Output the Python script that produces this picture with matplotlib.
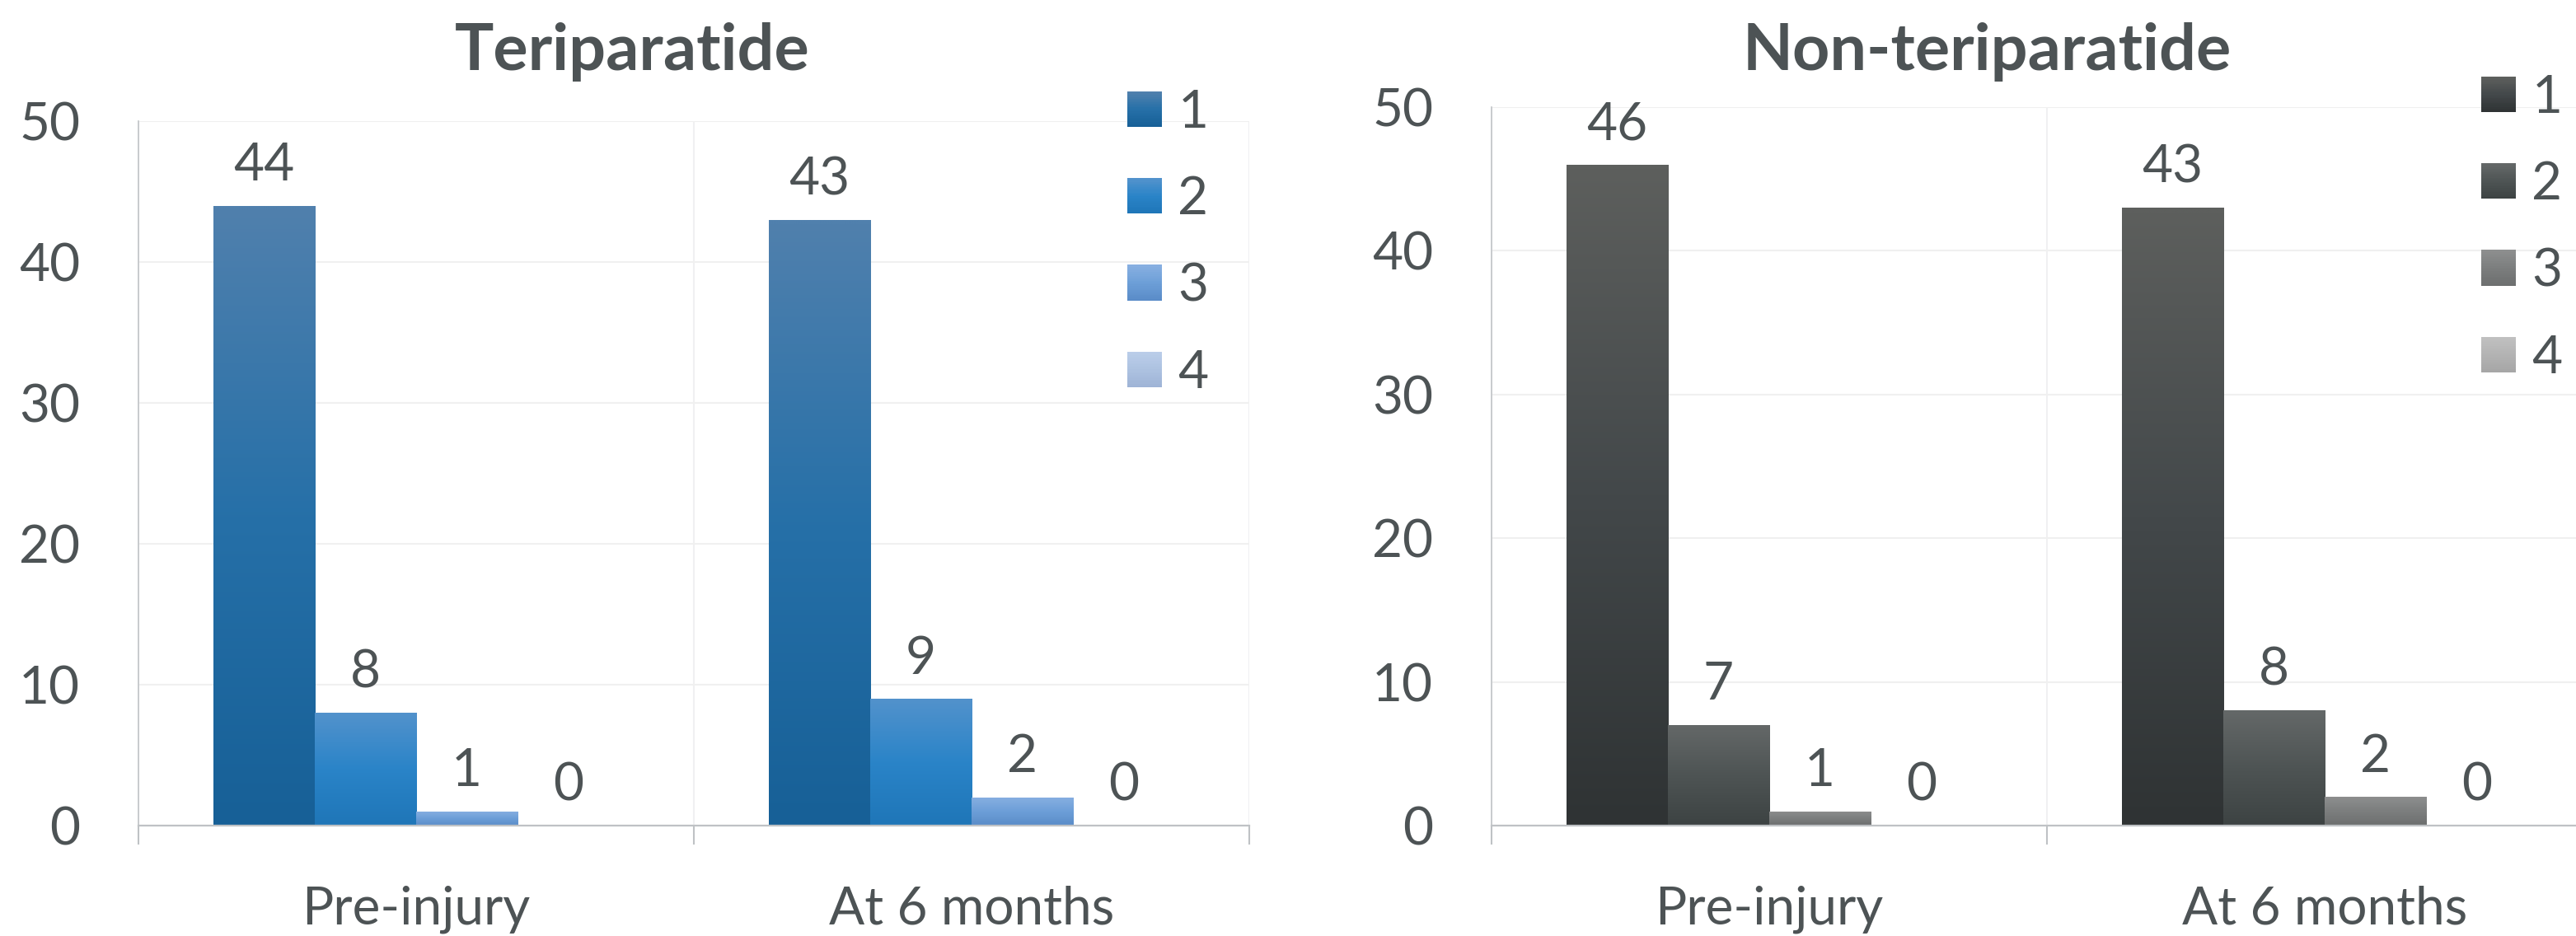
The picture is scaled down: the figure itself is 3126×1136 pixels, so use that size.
import numpy as np
import matplotlib
matplotlib.use('Agg')
import matplotlib.pyplot as plt
from matplotlib.patches import Rectangle
from matplotlib.legend_handler import HandlerBase
from matplotlib.colors import to_rgb

# data
categories = ['Pre-injury', 'At 6 months']
series_labels = ['1', '2', '3', '4']
teri_counts = [[44, 43], [8, 9], [1, 2], [0, 0]]       # series x category
nonteri_counts = [[46, 43], [7, 8], [1, 2], [0, 0]]
titles = ['Teriparatide', 'Non-teriparatide']

# gradient stops per series (top, middle, bottom)
blue_fills = [('#5080ad', '#2670a8', '#176097'),
              ('#5292cc', '#2a84c8', '#1f76b8'),
              ('#87afe1', '#6d9fd8', '#5a8cc8'),
              ('#bacde9', '#adc2e1', '#9fb4d6')]
gray_fills = [('#5d5f5d', '#43484a', '#2f3334'),
              ('#646868', '#4e5454', '#3d4343'),
              ('#8d8e8e', '#7c7e7e', '#6d6f6f'),
              ('#c0c0c0', '#b3b3b3', '#a6a6a6')]

TEXT = '#4d5355'
FONT = 'Lato'
DPI = 100
W, H = 3126, 1136

plt.rcParams['font.family'] = [FONT, 'DejaVu Sans']


def gradient(stops, n=64):
    cols = [np.array(to_rgb(c)) for c in stops]
    t = np.linspace(0, 1, n)
    out = np.zeros((n, 1, 3))
    for i, tt in enumerate(t):
        if tt <= 0.5:
            f = tt / 0.5
            out[i, 0] = cols[0] * (1 - f) + cols[1] * f
        else:
            f = (tt - 0.5) / 0.5
            out[i, 0] = cols[1] * (1 - f) + cols[2] * f
    return out


class GradientHandler(HandlerBase):
    def __init__(self, stops, n=20):
        super().__init__()
        self.img = gradient(stops, n)
        self.n = n

    def create_artists(self, legend, orig_handle, xdescent, ydescent,
                       width, height, fontsize, trans):
        arts = []
        for i in range(self.n):
            c = self.img[self.n - 1 - i, 0]
            r = Rectangle((-xdescent, -ydescent + height * i / self.n),
                          width, height / self.n * 1.05,
                          facecolor=c, edgecolor='none', transform=trans)
            arts.append(r)
        return arts


def draw_panel(ax, counts, fills):
    x = np.arange(len(categories))
    width = 0.1825
    for s, vals in enumerate(counts):
        bars = ax.bar(x + (s - 1.5) * width, vals, width,
                      color=fills[s][1], linewidth=0, zorder=2)
        for b, v in zip(bars, vals):
            if v > 0:
                x0 = b.get_x()
                im = ax.imshow(gradient(fills[s]), aspect='auto',
                               extent=(x0, x0 + b.get_width(), 0, v),
                               origin='upper', zorder=2.5, interpolation='bilinear')
                im.set_clip_path(b)
            ax.annotate(str(v), (b.get_x() + b.get_width() / 2, v),
                        xytext=(0, 22), textcoords='offset points',
                        ha='center', va='baseline', fontsize=46, color=TEXT)

    ax.set_xlim(-0.5, 1.5)
    ax.set_ylim(0, 50)
    ax.set_yticks(range(0, 51, 10))
    ax.set_xticks(x)
    ax.set_xticklabels(categories)
    ax.set_xticks([-0.5, 0.5, 1.5], minor=True)
    ax.tick_params(axis='y', length=0, pad=51, labelsize=46, labelcolor=TEXT)
    ax.tick_params(axis='x', which='major', length=0, pad=52, labelsize=46, labelcolor=TEXT)
    ax.tick_params(axis='x', which='minor', length=16.5, width=1.5,
                   color='#bfc2c5', direction='out')
    ax.set_axisbelow(True)
    ax.grid(axis='y', color='#f0f0f0', linewidth=1.5)
    ax.grid(axis='x', which='minor', color='#f0f0f2', linewidth=1.5)
    ax.spines['top'].set_visible(False)
    ax.spines['right'].set_visible(False)
    ax.spines['left'].set_color('#c0c3c6')
    ax.spines['left'].set_linewidth(1.2)
    ax.spines['bottom'].set_color('#bfc2c5')
    ax.spines['bottom'].set_linewidth(1.6)

    proxies = [Rectangle((0, 0), 1, 1, label=lab) for lab in series_labels]
    hmap = {p: GradientHandler(fills[i]) for i, p in enumerate(proxies)}
    return proxies, hmap


fig = plt.figure(figsize=(W / DPI, H / DPI), dpi=DPI)

ax1 = fig.add_axes([168 / W, (H - 1002) / H, 1348 / W, 855 / H])
ax2 = fig.add_axes([1810 / W, (H - 1002) / H, 1348 / W, 872 / H])

p1, h1 = draw_panel(ax1, teri_counts, blue_fills)
p2, h2 = draw_panel(ax2, nonteri_counts, gray_fills)

leg_kw = dict(frameon=False, fontsize=46, labelcolor=TEXT, handlelength=0.66,
              handleheight=0.66, handletextpad=0.3, labelspacing=0.74,
              borderpad=0, borderaxespad=0, loc='upper left')
fig.legend(handles=p1, handler_map=h1, bbox_to_anchor=(1368 / W, (H - 108) / H), **leg_kw)
fig.legend(handles=p2, handler_map=h2, bbox_to_anchor=(3011 / W, (H - 90) / H), **leg_kw)

fig.text(767 / W, (H - 85) / H, titles[0], ha='center', va='baseline',
         fontsize=57, fontweight='bold', color=TEXT)
fig.text(2411 / W, (H - 85) / H, titles[1], ha='center', va='baseline',
         fontsize=57, fontweight='bold', color=TEXT)

fig.savefig('out.png', dpi=DPI, facecolor='white')
